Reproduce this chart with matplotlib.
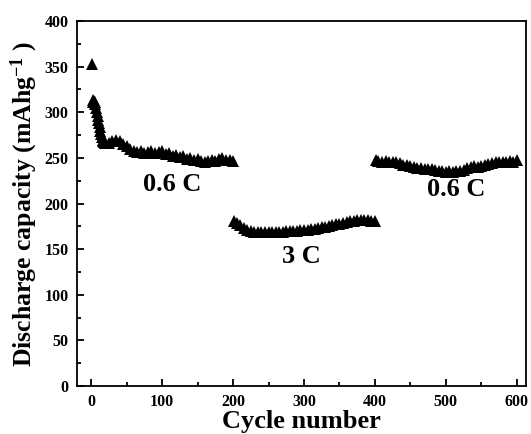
import matplotlib
matplotlib.use("Agg")
import matplotlib.pyplot as plt
from matplotlib.ticker import MultipleLocator

plt.rcParams['font.family'] = ['Liberation Serif', 'DejaVu Serif']
plt.rcParams['font.weight'] = 'bold'
plt.rcParams['mathtext.fontset'] = 'custom'
plt.rcParams['mathtext.rm'] = 'Liberation Serif:bold'
plt.rcParams['mathtext.bf'] = 'Liberation Serif:bold'
plt.rcParams['mathtext.it'] = 'Liberation Serif:bold'

# Segment 1: 0.6 C (cycles 1-200)
cycles_a = [1, 2, 3, 4, 5, 6, 7, 8, 9, 10, 11, 12, 13, 14, 15, 16, 17, 18, 20,
            25, 30, 35, 40, 45, 50, 55, 60, 65, 70, 75, 80, 85, 90, 95, 100,
            105, 110, 115, 120, 125, 130, 135, 140, 145, 150, 155, 160, 165,
            170, 175, 180, 185, 190, 195, 200]
cap_a = [353, 311, 313, 312, 311, 309, 305, 300, 296, 292, 288, 284, 280, 276,
         273, 270, 268, 267, 266,
         266, 268, 270, 268, 265, 263, 260, 257, 256, 257, 255, 256, 258, 255,
         256, 257, 254, 255, 252, 253, 251, 252, 249, 250, 248, 249, 247, 246,
         247, 248, 247, 249, 250, 248, 248, 247]

# Segment 2: 3 C (cycles 201-400)
cycles_b = [201, 205, 210, 215, 220, 225, 230, 235, 240, 245, 250, 255, 260,
            265, 270, 275, 280, 285, 290, 295, 300, 305, 310, 315, 320, 325,
            330, 335, 340, 345, 350, 355, 360, 365, 370, 375, 380, 385, 390,
            395, 400]
cap_b = [181, 179, 176, 173, 171, 170, 169, 169, 169, 169, 169, 169, 169, 169,
         169, 170, 170, 170, 170, 171, 171, 171, 172, 172, 173, 174, 174, 175,
         176, 177, 178, 179, 180, 181, 181, 182, 182, 182, 182, 181, 181]

# Segment 3: 0.6 C (cycles 401-600)
cycles_c = [401, 405, 410, 415, 420, 425, 430, 435, 440, 445, 450, 455, 460,
            465, 470, 475, 480, 485, 490, 495, 500, 505, 510, 515, 520, 525,
            530, 535, 540, 545, 550, 555, 560, 565, 570, 575, 580, 585, 590,
            595, 600]
cap_c = [248, 247, 246, 247, 246, 246, 245, 244, 242, 242, 241, 240, 239, 239,
         238, 238, 238, 237, 236, 236, 235, 236, 235, 236, 236, 237, 239, 240,
         241, 240, 241, 242, 243, 244, 245, 245, 246, 246, 247, 246, 248]

labels = ["0.6 C", "3 C", "0.6 C"]
label_pos = [(114, 221), (297, 142), (514, 215)]

fig = plt.figure(figsize=(5.31, 4.34), dpi=100)
ax = fig.add_axes([0.145, 0.1106, 0.8456, 0.841])

for cx, cy in [(cycles_a, cap_a), (cycles_b, cap_b), (cycles_c, cap_c)]:
    ax.plot(cx, cy, linestyle='none', marker='^', markersize=8.5,
            color='black', markeredgewidth=0)

for txt, (px, py) in zip(labels, label_pos):
    ax.text(px, py, txt, fontsize=19, fontweight='bold', ha='center', va='center')

ax.set_xlim(-20, 613)
ax.set_ylim(0, 400)
ax.xaxis.set_major_locator(MultipleLocator(100))
ax.xaxis.set_minor_locator(MultipleLocator(50))
ax.yaxis.set_major_locator(MultipleLocator(50))
ax.yaxis.set_minor_locator(MultipleLocator(25))
ax.tick_params(which='both', direction='in', top=False, right=False,
               width=1.3, labelsize=11.5, pad=6)
ax.tick_params(which='major', length=5)
ax.tick_params(which='minor', length=3)
for s in ax.spines.values():
    s.set_linewidth(1.3)
for lab in ax.get_xticklabels() + ax.get_yticklabels():
    lab.set_fontweight('bold')

ax.set_xlabel("Cycle number", fontsize=19, fontweight='bold', labelpad=0)
ax.set_ylabel("Discharge capacity (mAhg$^{-1}$ )", fontsize=18.5,
              fontweight='bold', labelpad=3)

fig.savefig("out.png", dpi=100)
